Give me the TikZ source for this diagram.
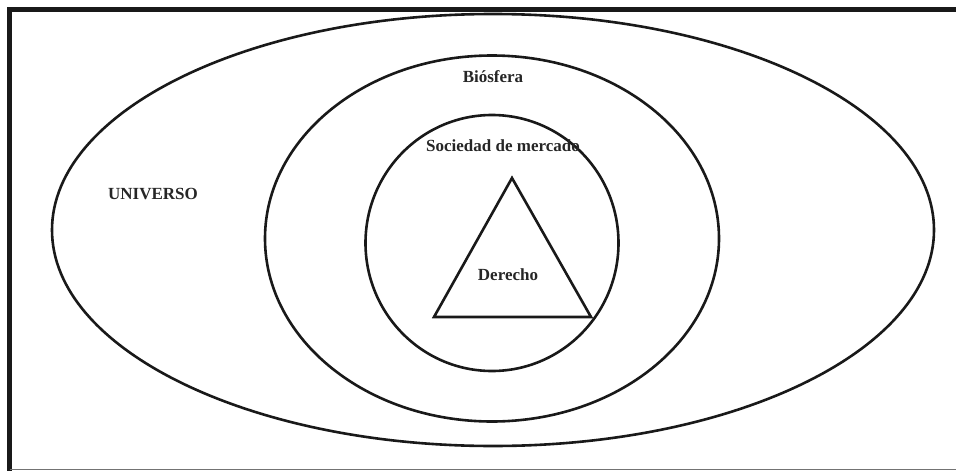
\documentclass[tikz,border=0pt]{standalone}
\usepackage{fontspec}
\setmainfont{Liberation Serif}
\usetikzlibrary{shapes.geometric}
\begin{document}
\begin{tikzpicture}[x=1pt,y=-1pt,
  ring/.style={draw=black!90,line width=2.6pt},
  lbl/.style={font=\fontsize{17}{20}\selectfont\bfseries,text=black!85,inner sep=0pt}]
\useasboundingbox (0,0) rectangle (956,471);
% frame
\draw[line width=5pt,draw=black!90] (9.5,471) -- (9.5,9.5) -- (956,9.5);
\draw[line width=1.5pt,draw=black!55] (9.5,469.5) -- (956,469.5);
% shapes
\draw[ring] (493,230) ellipse [x radius=441, y radius=216];
\draw[ring] (492,238.5) ellipse [x radius=227, y radius=183];
\draw[ring] (492,243) ellipse [x radius=126.5, y radius=128];
\coordinate (apex) at (512,178);
\coordinate (bl) at (434,317);
\coordinate (br) at (591,317);
\draw[ring,line join=miter] (apex) -- (bl) -- (br) -- cycle;
% labels
\node[lbl] (univ) at (153,194) {UNIVERSO};
\node[lbl] (bios) at (493,77) {Biósfera};
\node[lbl] (soc) at (503,146) {Sociedad de mercado};
\node[lbl] (der) at (508,275) {Derecho};
\end{tikzpicture}
\end{document}
